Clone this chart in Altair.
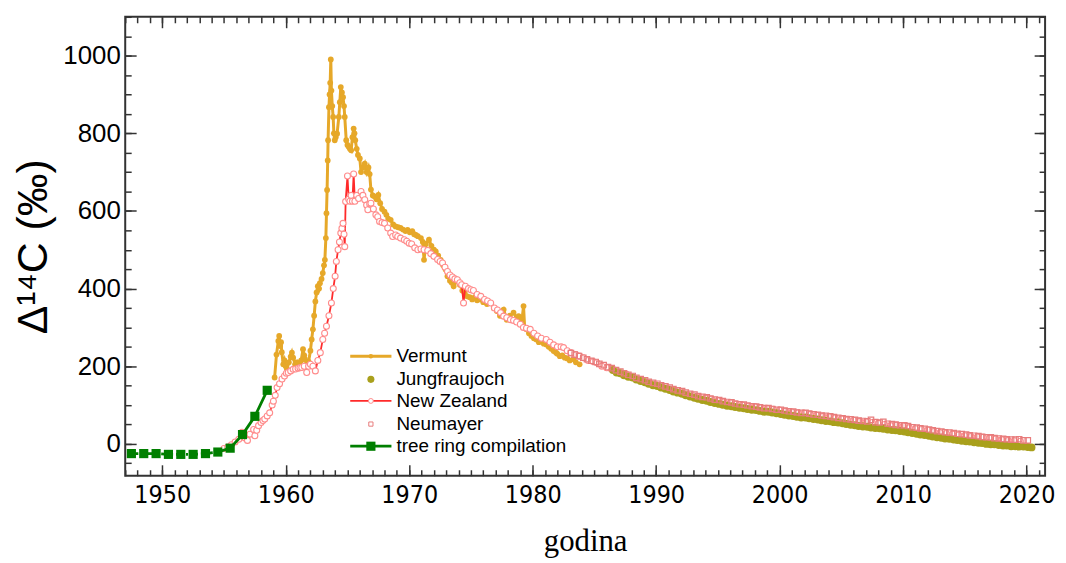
import altair as alt
import pandas as pd

# ---------------- data ----------------
tree_years = [1947.5, 1948.5, 1949.5, 1950.5, 1951.5, 1952.5, 1953.5, 1954.5,
              1955.5, 1956.5, 1957.5, 1958.5]
tree_vals = [-25, -25, -25, -27, -27, -27, -25, -21, -11, 24, 71, 138]

verm_years = [1959.1, 1959.25, 1959.4, 1959.47, 1959.55, 1959.62, 1959.68, 1959.8, 1959.9, 1960.0,
              1960.1, 1960.25, 1960.4, 1960.5, 1960.6, 1960.76, 1960.9, 1961.0, 1961.1, 1961.25,
              1961.4, 1961.5, 1961.56, 1961.7, 1961.85, 1962.0, 1962.1, 1962.2, 1962.3, 1962.4,
              1962.5, 1962.6, 1962.7, 1962.77, 1962.9, 1963.0, 1963.1, 1963.17, 1963.25, 1963.3,
              1963.35, 1963.4, 1963.43, 1963.5, 1963.55, 1963.6, 1963.65, 1963.7, 1963.77, 1963.84,
              1963.9, 1963.97, 1964.05, 1964.16, 1964.3, 1964.38, 1964.46, 1964.55, 1964.64, 1964.72,
              1964.78, 1964.9, 1965.0, 1965.1, 1965.2, 1965.3, 1965.4, 1965.5, 1965.57, 1965.63,
              1965.75, 1965.85, 1966.0, 1966.1, 1966.25, 1966.4, 1966.55, 1966.7, 1966.8, 1966.9,
              1967.05, 1967.2, 1967.35, 1967.5, 1967.65, 1967.8, 1968.0, 1968.15, 1968.3, 1968.5,
              1968.7, 1968.9, 1969.1, 1969.3, 1969.5, 1969.7, 1969.87, 1970.05, 1970.25, 1970.4,
              1970.54, 1970.7, 1970.95, 1971.1, 1971.2, 1971.35, 1971.6, 1971.8, 1972.0, 1972.15,
              1972.35, 1972.55, 1972.75, 1972.95, 1973.1, 1973.3, 1973.45, 1973.6, 1973.75, 1973.9,
              1974.1, 1974.3, 1974.5, 1974.7, 1974.9, 1975.1, 1975.3, 1975.5, 1975.8, 1976.0,
              1976.3, 1976.6, 1976.85, 1977.1, 1977.35, 1977.65, 1977.9, 1978.15, 1978.45, 1978.7,
              1978.86, 1979.0, 1979.1, 1979.26, 1979.35, 1979.5, 1979.7, 1979.9, 1980.1, 1980.3,
              1980.5, 1980.7, 1980.9, 1981.1, 1981.3, 1981.5, 1981.7, 1981.9, 1982.0, 1982.2,
              1982.4, 1982.6, 1982.8, 1983.0, 1983.3, 1983.5, 1983.8]
verm_vals = [171, 230, 265, 278, 252, 262, 236, 205, 215, 200,
             192, 210, 225, 235, 222, 205, 210, 197, 205, 215,
             244, 228, 218, 205, 212, 240, 269, 295, 330, 367,
             390, 406, 400, 414, 425, 440, 460, 474, 530, 594,
             654, 730, 782, 867, 900, 930, 990, 910, 870, 842,
             800, 782, 790, 799, 842, 880, 919, 905, 893, 870,
             842, 782, 770, 765, 760, 756, 790, 812, 800, 782,
             760, 744, 735, 700, 712, 722, 700, 712, 695, 655,
             640, 637, 630, 641, 620, 605, 598, 590, 580, 577,
             565, 560, 558, 556, 552, 548, 551, 545, 548, 540,
             538, 535, 530, 520, 474, 515, 526, 510, 500, 496,
             485, 474, 460, 449, 432, 420, 415, 406, 418, 423,
             410, 395, 388, 380, 378, 372, 378, 370, 372, 365,
             360, 363, 350, 342, 330, 346, 320, 330, 338, 325,
             329, 318, 310, 355, 300, 295, 285, 278, 272, 269,
             262, 265, 258, 256, 250, 245, 239, 235, 232, 226,
             228, 222, 220, 215, 218, 210, 205]

nz_years = [1955.0, 1955.3, 1955.6, 1955.9, 1956.2, 1956.46, 1956.7, 1956.9, 1957.1, 1957.4,
            1957.5, 1957.65, 1957.8, 1958.0, 1958.15, 1958.3, 1958.5, 1958.7, 1958.9, 1959.0,
            1959.15, 1959.3, 1959.5, 1959.7, 1959.9, 1960.05, 1960.2, 1960.4, 1960.6, 1960.8,
            1961.0, 1961.15, 1961.3, 1961.5, 1961.7, 1961.85, 1962.0, 1962.2, 1962.4, 1962.6,
            1962.8, 1963.0, 1963.15, 1963.3, 1963.5, 1963.7, 1963.85, 1964.0, 1964.1, 1964.24,
            1964.35, 1964.46, 1964.55, 1964.64, 1964.72, 1964.78, 1964.85, 1965.0, 1965.1, 1965.2,
            1965.3, 1965.4, 1965.5, 1965.6, 1965.75, 1965.9, 1966.1, 1966.25, 1966.4, 1966.55,
            1966.65, 1966.8, 1966.9, 1967.1, 1967.3, 1967.45, 1967.6, 1967.8, 1968.0, 1968.26,
            1968.5, 1968.66, 1968.9, 1969.07, 1969.3, 1969.6, 1969.8, 1970.0, 1970.2, 1970.45,
            1970.7, 1970.95, 1971.2, 1971.5, 1971.75, 1972.0, 1972.3, 1972.5, 1972.7, 1972.9,
            1973.1, 1973.3, 1973.5, 1973.7, 1973.9, 1974.1, 1974.25, 1974.4, 1974.55, 1974.8,
            1975.0, 1975.2, 1975.5, 1975.8, 1976.1, 1976.35, 1976.6, 1976.9, 1977.15, 1977.4,
            1977.65, 1977.9, 1978.2, 1978.45, 1978.7, 1979.0, 1979.25, 1979.5, 1979.8, 1980.1,
            1980.4, 1980.7, 1981.1, 1981.4, 1981.7, 1982.0, 1982.3, 1982.5, 1982.8, 1983.1,
            1983.5, 1983.8, 1984.1, 1984.5, 1984.9, 1985.2, 1985.6, 1986.0, 1986.5, 1987.0,
            1987.6, 1988.0, 1988.5, 1989.0, 1989.5, 1990.0, 1990.5, 1991.0, 1991.5, 1992.0,
            1992.5, 1993.0, 1993.5, 1994.0, 1994.5, 1995.0, 1995.5, 1996.0, 1996.5, 1997.0,
            1997.5, 1998.0, 1998.5, 1999.0, 1999.5, 2000.0, 2000.5, 2001.0, 2001.5, 2002.0,
            2002.5, 2003.0, 2003.5, 2004.0, 2004.5, 2005.0, 2005.5, 2006.0, 2006.5, 2007.0,
            2007.5, 2008.0, 2008.5, 2009.0, 2009.5, 2010.0, 2010.5, 2011.0, 2011.5, 2012.0,
            2012.5, 2013.0, 2013.5, 2014.0, 2014.5, 2015.0, 2015.5, 2016.0, 2016.5, 2017.0,
            2017.5, 2018.0, 2018.5, 2019.0, 2019.5]
nz_vals = [-12, -8, -2, 5, 12, 30, 15, 9, 25, 37,
           21, 35, 47, 55, 60, 64, 72, 80, 100, 110,
           125, 145, 155, 167, 175, 182, 184, 188, 192, 193,
           195, 196, 197, 200, 184, 200, 205, 200, 188, 215,
           235, 269, 285, 303, 330, 363, 400, 432, 470, 500,
           520, 543, 555, 568, 540, 508, 624, 690, 630, 625,
           640, 625, 695, 625, 640, 632, 650, 640, 629, 615,
           603, 618, 620, 605, 590, 585, 573, 570, 568, 556,
           543, 534, 538, 534, 530, 526, 522, 517, 515, 505,
           500, 502, 500, 498, 490, 483, 475, 470, 466, 455,
           444, 435, 430, 425, 423, 415, 410, 363, 406, 400,
           397, 395, 385, 380, 372, 368, 363, 350, 345, 338,
           329, 325, 320, 318, 314, 308, 300, 298, 295, 285,
           278, 272, 269, 262, 255, 250, 250, 248, 240, 235,
           230, 226, 222, 215, 212, 209, 200, 196, 192, 184,
           179, 172, 166, 160, 157, 152, 147, 142, 138, 134,
           128, 124, 120, 118, 115, 111, 108, 106, 102, 100,
           97, 96, 93, 91, 89, 87, 84, 82, 80, 79,
           76, 74, 71, 70, 67, 64, 62, 61, 58, 57,
           55, 53, 50, 47, 49, 46, 42, 39, 37, 36,
           32, 29, 27, 25, 23, 21, 19, 18, 17, 15,
           13, 11, 9, 8, 7]

neu_years = [1983.1, 1983.4, 1983.75, 1984.1, 1984.4, 1984.75, 1985.1, 1985.4, 1985.75,
             1986.1, 1986.4, 1986.75, 1987.1, 1987.4, 1987.75, 1988.1, 1988.4, 1988.75,
             1989.1, 1989.4, 1989.75, 1990.1, 1990.4, 1990.75, 1991.1, 1991.4, 1991.75,
             1992.1, 1992.4, 1992.75, 1993.1, 1993.4, 1993.75, 1994.1, 1994.4, 1994.75,
             1995.1, 1995.4, 1995.75, 1996.1, 1996.4, 1996.75, 1997.1, 1997.4, 1997.75,
             1998.1, 1998.4, 1998.75, 1999.1, 1999.4, 1999.75, 2000.1, 2000.4, 2000.75,
             2001.1, 2001.4, 2001.75, 2002.1, 2002.4, 2002.75, 2003.1, 2003.4, 2003.75,
             2004.1, 2004.4, 2004.75, 2005.1, 2005.4, 2005.75, 2006.1, 2006.4, 2006.75,
             2007.1, 2007.4, 2007.75, 2008.1, 2008.4, 2008.75, 2009.1, 2009.4, 2009.75,
             2010.1, 2010.4, 2010.75, 2011.1, 2011.4, 2011.75, 2012.1, 2012.4, 2012.75,
             2013.1, 2013.4, 2013.75, 2014.1, 2014.4, 2014.75, 2015.1, 2015.4, 2015.75,
             2016.1, 2016.4, 2016.75, 2017.1, 2017.4, 2017.75, 2018.1, 2018.4, 2018.75,
             2019.1, 2019.4, 2019.75, 2020.1]
neu_vals = [234, 230, 226, 222, 218, 214, 211, 206, 203,
            198, 195, 190, 186, 182, 178, 175, 170, 167,
            164, 160, 157, 155, 151, 148, 145, 141, 138,
            136, 132, 129, 127, 123, 121, 120, 117, 114,
            113, 110, 108, 107, 104, 102, 101, 99, 97,
            96, 94, 92, 92, 90, 88, 88, 86, 84,
            83, 81, 80, 80, 78, 76, 75, 73, 72,
            71, 69, 67, 66, 64, 63, 62, 60, 59,
            58, 62, 56, 55, 57, 52, 51, 49, 48,
            48, 46, 43, 42, 40, 39, 37, 35, 33,
            32, 30, 29, 28, 26, 25, 24, 22, 21,
            20, 18, 17, 17, 15, 14, 13, 12, 11,
            11, 12, 9, 9]

jfj_years = [1986.5, 1986.8, 1987.1, 1987.4, 1987.75, 1988.1, 1988.4, 1988.75,
             1989.1, 1989.4, 1989.75, 1990.1, 1990.4, 1990.75, 1991.1, 1991.4, 1991.75,
             1992.1, 1992.4, 1992.75, 1993.1, 1993.4, 1993.75, 1994.1, 1994.4, 1994.75,
             1995.1, 1995.4, 1995.75, 1996.1, 1996.4, 1996.75, 1997.1, 1997.4, 1997.75,
             1998.1, 1998.4, 1998.75, 1999.1, 1999.4, 1999.75, 2000.1, 2000.4, 2000.75,
             2001.1, 2001.4, 2001.75, 2002.1, 2002.4, 2002.75, 2003.1, 2003.4, 2003.75,
             2004.1, 2004.4, 2004.75, 2005.1, 2005.4, 2005.75, 2006.1, 2006.4, 2006.75,
             2007.1, 2007.4, 2007.75, 2008.1, 2008.4, 2008.75, 2009.1, 2009.4, 2009.75,
             2010.1, 2010.4, 2010.75, 2011.1, 2011.4, 2011.75, 2012.1, 2012.4, 2012.75,
             2013.1, 2013.4, 2013.75, 2014.1, 2014.4, 2014.75, 2015.1, 2015.4, 2015.75,
             2016.1, 2016.4, 2016.75, 2017.1, 2017.4, 2017.75, 2018.1, 2018.4, 2018.75,
             2019.1, 2019.4, 2019.75, 2020.1, 2020.4]
jfj_vals = [190, 184, 182, 177, 173, 171, 166, 162,
            159, 155, 151, 149, 145, 142, 139, 135, 132,
            129, 125, 122, 119, 116, 113, 111, 108, 105,
            103, 101, 98, 97, 95, 93, 92, 90, 88,
            87, 85, 83, 83, 81, 79, 77, 75, 73,
            72, 70, 68, 68, 66, 64, 63, 61, 59,
            58, 56, 55, 53, 51, 49, 48, 46, 45,
            44, 42, 41, 40, 39, 37, 36, 35, 33,
            32, 30, 28, 26, 24, 23, 21, 19, 17,
            16, 14, 13, 11, 10, 8, 7, 6, 4,
            3, 2, 0, -1, -1, -3, -4, -4, -6,
            -6, -7, -7, -8, -9]

legend_labels = ["Vermunt", "Jungfraujoch", "New Zealand", "Neumayer", "tree ring compilation"]

# ---------------- style ----------------
C_VERM = "#E6A829"
C_JFJ = "#A9A01C"
C_NZ = "#FF2A2A"
C_NZ_PT = "#FF8C8C"
C_NEU = "#E87C7C"
C_TREE = "#007F00"
AX = "#333333"
SANS = "Liberation Sans, Arial, sans-serif"
NARROW = "Liberation Sans Narrow, DejaVu Sans Condensed, Liberation Sans, Arial, sans-serif"
SERIF = "Liberation Serif, Times New Roman, serif"

W, H = 926, 462
xs = alt.Scale(domain=[1947, 2021.5], nice=False, zero=False)
ys = alt.Scale(domain=[-82, 1100], nice=False, zero=False)

df_tree = pd.DataFrame({"year": tree_years, "d14c": tree_vals})
df_tree_a = df_tree[df_tree.year <= 1954.5]
df_tree_b = df_tree[df_tree.year >= 1954.5]
df_verm = pd.DataFrame({"year": verm_years, "d14c": verm_vals})
df_nz = pd.DataFrame({"year": nz_years, "d14c": nz_vals})
df_neu = pd.DataFrame({"year": neu_years, "d14c": neu_vals})
df_jfj = pd.DataFrame({"year": jfj_years, "d14c": jfj_vals})


def xy(axis_x=None, axis_y=None):
    return dict(
        x=alt.X("year:Q", scale=xs, axis=axis_x),
        y=alt.Y("d14c:Q", scale=ys, axis=axis_y),
    )


# ---------------- axes (inward ticks, mirrored on all four sides) ----------------
major_x = list(range(1950, 2021, 10))
minor_x = list(range(1947, 2022))
major_y = list(range(0, 1001, 200))
minor_y = list(range(-50, 1101, 50))

df_ax = pd.DataFrame({"year": [1947, 2021.5], "d14c": [-82, 1100]})

common = dict(domain=False, grid=False, tickColor=AX, tickWidth=1.5)

ax_bottom = alt.Axis(orient="bottom", values=major_x, tickSize=11, offset=-11, format="d",
                     labelFont=NARROW, labelFontSize=25, labelColor="black", labelPadding=7,
                     title="godina", titleFont=SERIF, titleFontSize=31, titleFontWeight="normal",
                     titleColor="black", titlePadding=19, **common)
ax_left = alt.Axis(orient="left", values=major_y, tickSize=11, offset=-11, format="d",
                   labelFont=SANS, labelFontSize=26, labelColor="black", labelPadding=5,
                   title="Δ¹⁴C (‰)", titleFont=SANS, titleFontSize=43, titleFontWeight="normal",
                   titleColor="black", titlePadding=7, **common)
ax_bottom_minor = alt.Axis(orient="bottom", values=minor_x, tickSize=6, offset=-6,
                           labels=False, title=None, **common)
ax_left_minor = alt.Axis(orient="left", values=minor_y, tickSize=6, offset=-6,
                         labels=False, title=None, **common)
ax_top = alt.Axis(orient="top", values=major_x, tickSize=11, offset=-11,
                  labels=False, title=None, **common)
ax_right = alt.Axis(orient="right", values=major_y, tickSize=11, offset=-11,
                    labels=False, title=None, **common)
ax_top_minor = alt.Axis(orient="top", values=minor_x, tickSize=6, offset=-6,
                        labels=False, title=None, **common)
ax_right_minor = alt.Axis(orient="right", values=minor_y, tickSize=6, offset=-6,
                          labels=False, title=None, **common)

axis_layers = [
    alt.Chart(df_ax).mark_point(opacity=0).encode(**xy(ax_bottom, ax_left)),
    alt.Chart(df_ax).mark_point(opacity=0).encode(**xy(ax_bottom_minor, ax_left_minor)),
    alt.Chart(df_ax).mark_point(opacity=0).encode(**xy(ax_top, ax_right)),
    alt.Chart(df_ax).mark_point(opacity=0).encode(**xy(ax_top_minor, ax_right_minor)),
]

# ---------------- data layers ----------------
verm_line = alt.Chart(df_verm).mark_line(color=C_VERM, strokeWidth=3).encode(
    order="year:Q", **xy())
verm_pts = alt.Chart(df_verm).mark_circle(size=34, color=C_VERM, opacity=1).encode(**xy())

nz_line = alt.Chart(df_nz).mark_line(color=C_NZ, strokeWidth=1.8).encode(order="year:Q", **xy())
nz_pts = alt.Chart(df_nz).mark_point(shape="circle", size=36, filled=True, fill="white",
                                     stroke=C_NZ_PT, strokeWidth=1.1, opacity=1).encode(**xy())

jfj_pts = alt.Chart(df_jfj).mark_circle(size=64, color=C_JFJ, opacity=1).encode(**xy())

neu_pts = alt.Chart(df_neu).mark_point(shape="square", size=30, filled=False,
                                       stroke=C_NEU, strokeWidth=1.2, opacity=1).encode(**xy())

tree_line_a = alt.Chart(df_tree_a).mark_line(color=C_TREE, strokeWidth=2.8,
                                             strokeDash=[7, 3, 2, 3]).encode(order="year:Q", **xy())
tree_line_b = alt.Chart(df_tree_b).mark_line(color=C_TREE, strokeWidth=2.8).encode(
    order="year:Q", **xy())
tree_pts = alt.Chart(df_tree).mark_square(size=85, color=C_TREE, opacity=1).encode(**xy())

# ---------------- manual legend (plot-pixel coordinates) ----------------
leg_rows = [341.7, 365, 386.7, 410, 432.3]
df_leg = pd.DataFrame({"label": legend_labels, "py": leg_rows})
X_L0, X_L1, X_M, X_T = 226.5, 268, 247.3, 273


def leg_y():
    return alt.Y("py:Q", scale=None, axis=None)


leg_text = alt.Chart(df_leg).mark_text(align="left", baseline="middle", font=SANS,
                                       fontSize=19, color="black").encode(
    x=alt.value(X_T), y=leg_y(), text="label:N")


def row(i):
    return df_leg.iloc[[i]]


leg_verm_l = alt.Chart(row(0)).mark_rule(color=C_VERM, strokeWidth=3).encode(
    x=alt.value(X_L0), x2=alt.value(X_L1), y=leg_y())
leg_verm_p = alt.Chart(row(0)).mark_circle(size=20, color=C_VERM, opacity=1).encode(
    x=alt.value(X_M), y=leg_y())
leg_jfj_p = alt.Chart(row(1)).mark_circle(size=50, color=C_JFJ, opacity=1).encode(
    x=alt.value(X_M), y=leg_y())
leg_nz_l = alt.Chart(row(2)).mark_rule(color=C_NZ, strokeWidth=1.8).encode(
    x=alt.value(X_L0), x2=alt.value(X_L1), y=leg_y())
leg_nz_p = alt.Chart(row(2)).mark_point(shape="circle", size=24, filled=True, fill="white",
                                        stroke=C_NZ_PT, strokeWidth=1, opacity=1).encode(
    x=alt.value(X_M), y=leg_y())
leg_neu_p = alt.Chart(row(3)).mark_point(shape="square", size=18, filled=False,
                                         stroke=C_NEU, strokeWidth=1, opacity=1).encode(
    x=alt.value(X_M), y=leg_y())
leg_tree_l = alt.Chart(row(4)).mark_rule(color=C_TREE, strokeWidth=2.8).encode(
    x=alt.value(X_L0), x2=alt.value(X_L1), y=leg_y())
leg_tree_p = alt.Chart(row(4)).mark_square(size=85, color=C_TREE, opacity=1).encode(
    x=alt.value(X_M), y=leg_y())

chart = alt.layer(
    *axis_layers,
    verm_line, verm_pts, nz_line, nz_pts, jfj_pts, neu_pts,
    tree_line_a, tree_line_b, tree_pts,
    leg_verm_l, leg_verm_p, leg_jfj_p, leg_nz_l, leg_nz_p, leg_neu_p,
    leg_tree_l, leg_tree_p, leg_text,
).resolve_axis(x="independent", y="independent").properties(
    width=W, height=H,
    autosize=alt.AutoSizeParams(type="none"),
    padding={"left": 118, "top": 7, "right": 13, "bottom": 86},
    background="white",
).configure_view(stroke=AX, strokeWidth=2)

chart.save("out.html", embed_options={"renderer": "svg", "actions": False})
